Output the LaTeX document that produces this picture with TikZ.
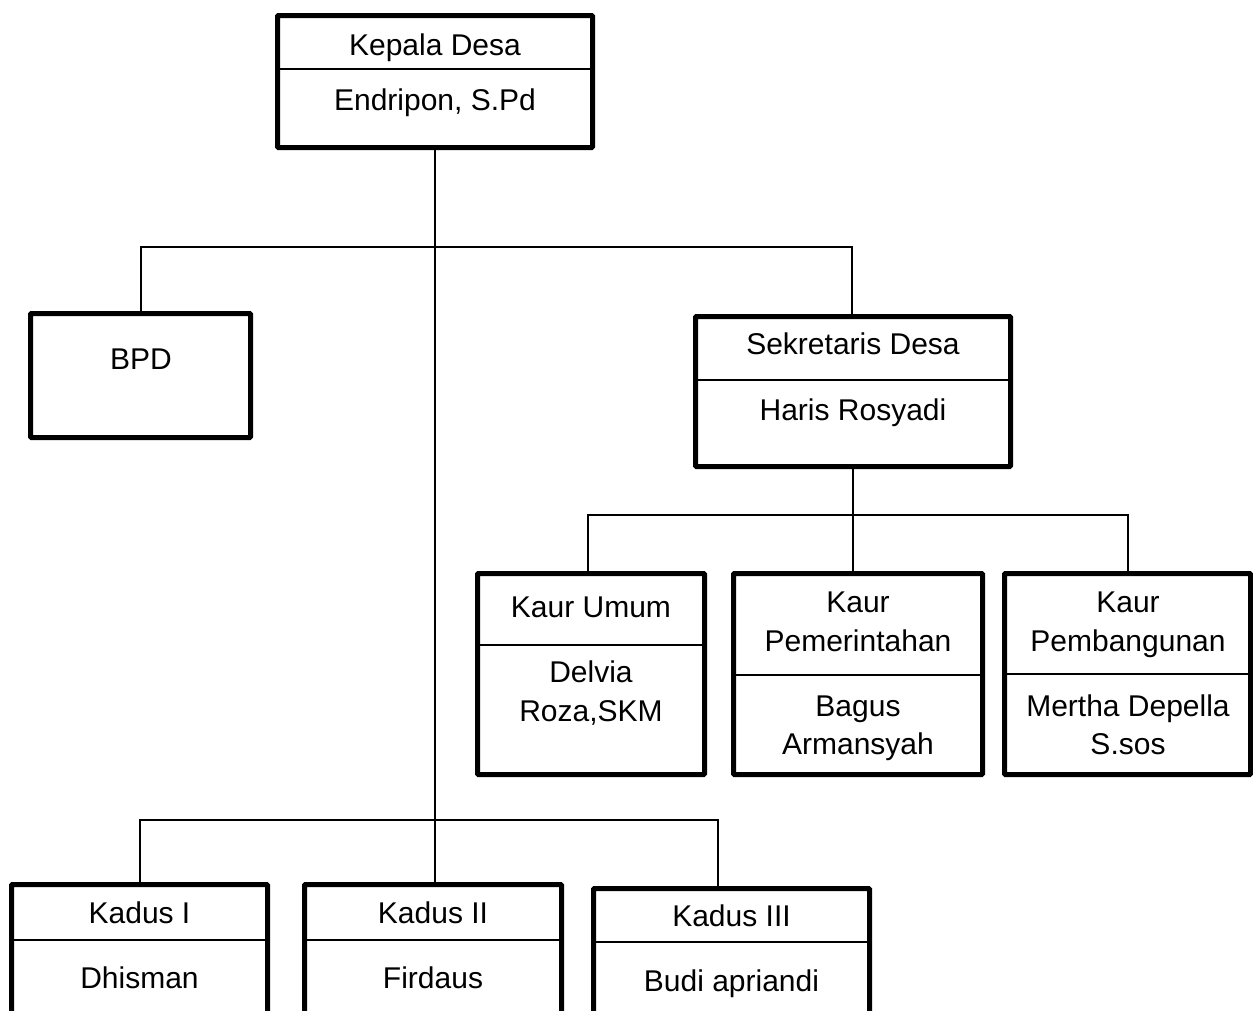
\documentclass[tikz,border=0pt]{standalone}
\usepackage{fontspec}
\setmainfont{Liberation Sans}
\newcommand\obox[5]{\node[box, minimum width={#4-#2}, minimum height={#5-#3}] (#1) at ({(#2+#4)/2},{(#3+#5)/2}) {};}
\newcommand\odiv[2]{\draw[dv] (#1.west |- 0,#2) -- (#1.east |- 0,#2);}
\begin{document}
\begin{tikzpicture}[x=1pt,y=-1pt,
  box/.style={draw, line width=5pt, inner sep=0pt, outer sep=0pt, rounded corners=1pt},
  ln/.style={line width=2pt},
  dv/.style={line width=2.5pt},
  lbl/.style={font=\fontsize{30}{36}\selectfont, anchor=base, inner sep=0pt}]
\useasboundingbox (0,0) rectangle (1253,1010);
\clip (0,0) rectangle (1253,1010);
% boxes
\obox{kd}{277.5}{15.5}{592.5}{147.5}
\obox{bpd}{30.5}{313.5}{250.5}{437.5}
\obox{sd}{695.5}{316.5}{1010.5}{466.5}
\obox{ku}{477.5}{573.5}{704.5}{774.5}
\obox{kp}{733.5}{573.5}{982.5}{774.5}
\obox{kb}{1004.5}{573.5}{1250.5}{774.5}
\obox{ka}{11.5}{884.5}{267.5}{1060}
\obox{kc}{304.5}{884.5}{561.5}{1060}
\obox{ke}{593.5}{888.5}{869.5}{1060}
% dividers
\odiv{kd}{69}
\odiv{sd}{380}
\odiv{ku}{645}
\odiv{kp}{675}
\odiv{kb}{674}
\odiv{ka}{940}
\odiv{kc}{940}
\odiv{ke}{942}
% connectors
\draw[ln] (kd.south) -- (kd.south |- kc.north);
\draw[ln] (bpd.north) -- (bpd.north |- 0,247) -- (852,247) coordinate (hs) -- (hs |- sd.north);
\draw[ln] (sd.south) -- (sd.south |- kp.north);
\coordinate (ja) at (588,515);
\draw[ln] (ja |- ku.north) -- (ja) -- (kb.north |- ja) -- (kb.north);
\coordinate (j3) at (718,820);
\draw[ln] (ka.north) -- (ka.north |- j3) -- (j3) -- (j3 |- ke.north);
% labels
\node[lbl] (t1) at (435,55) {Kepala Desa};
\node[lbl] (t2) at (435,110) {Endripon, S.Pd};
\node[lbl] (t3) at (141,369) {BPD};
\node[lbl] (t4) at (853,354) {Sekretaris Desa};
\node[lbl] (t5) at (853,420) {Haris Rosyadi};
\node[lbl] (t6) at (591,617) {Kaur Umum};
\node[lbl] (t7) at (591,682) {Delvia};
\node[lbl] (t8) at (591,721) {Roza,SKM};
\node[lbl] (t9) at (858,612) {Kaur};
\node[lbl] (t10) at (858,651) {Pemerintahan};
\node[lbl] (t11) at (858,716) {Bagus};
\node[lbl] (t12) at (858,754) {Armansyah};
\node[lbl] (t13) at (1128,612) {Kaur};
\node[lbl] (t14) at (1128,651) {Pembangunan};
\node[lbl] (t15) at (1128,716) {Mertha Depella};
\node[lbl] (t16) at (1128,754) {S.sos};
\node[lbl] (t17) at (139.5,923) {Kadus I};
\node[lbl] (t18) at (433,923) {Kadus II};
\node[lbl] (t19) at (731.5,926) {Kadus III};
\node[lbl] (t20) at (139.5,988) {Dhisman};
\node[lbl] (t21) at (433,988) {Firdaus};
\node[lbl] (t22) at (731.5,991) {Budi apriandi};
\end{tikzpicture}
\end{document}
